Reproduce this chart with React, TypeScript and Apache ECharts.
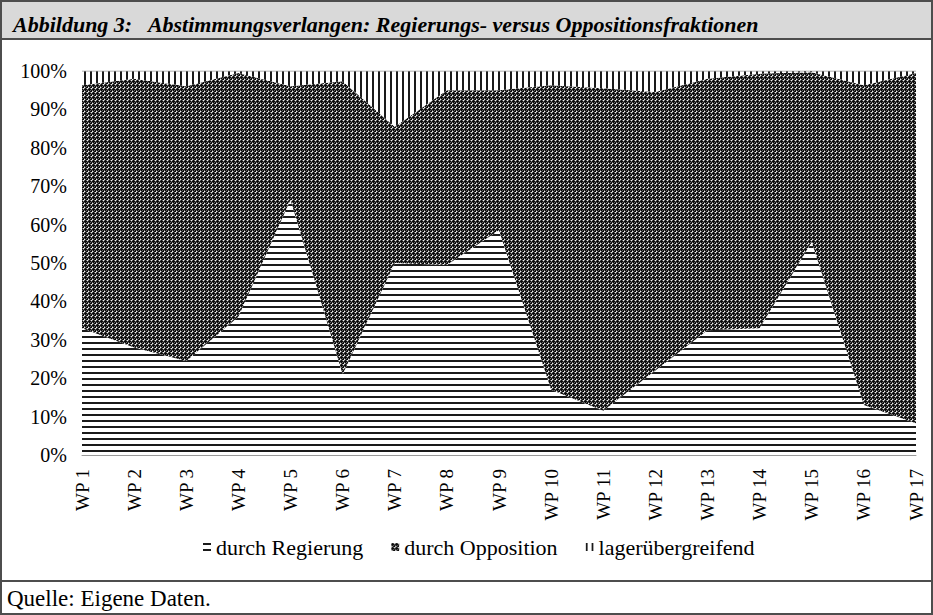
import React, { useEffect, useRef } from "react";
import * as echarts from "echarts";

const categories = ["WP 1", "WP 2", "WP 3", "WP 4", "WP 5", "WP 6", "WP 7", "WP 8", "WP 9", "WP 10", "WP 11", "WP 12", "WP 13", "WP 14", "WP 15", "WP 16", "WP 17"];
const regierung = [33, 28, 24.5, 36, 66.5, 21, 50, 49.5, 58.5, 17, 11.5, 22, 32.5, 33, 55.5, 13, 8.3];
const opposition = [63.3, 70, 71.5, 63.5, 29.5, 76.3, 35.5, 45.5, 36.5, 79.3, 84, 72.5, 65.5, 66.3, 44.2, 83.3, 91.2];
const lager = [3.7, 2, 4, 0.5, 4, 2.7, 14.5, 5, 5, 3.7, 4.5, 5.5, 2, 0.7, 0.3, 3.7, 0.5];
const seriesNames = ["durch Regierung", "durch Opposition", "lagerübergreifend"];
const titleText = "Abbildung 3:   Abstimmungsverlangen: Regierungs- versus Oppositionsfraktionen";
const sourceText = "Quelle: Eigene Daten.";

const FONT = "'Liberation Serif', 'DejaVu Serif', serif";

function makeCanvas(w: number, h: number, draw: (ctx: CanvasRenderingContext2D) => void) {
  const c = document.createElement("canvas");
  c.width = w;
  c.height = h;
  const ctx = c.getContext("2d")!;
  draw(ctx);
  return { image: c, repeat: "repeat", imageWidth: w, imageHeight: h } as any;
}

export default function App() {
  const ref = useRef<HTMLDivElement>(null);
  useEffect(() => {
    if (!ref.current) return;
    const chart = echarts.init(ref.current, null, { renderer: "svg" });

    const hLines = makeCanvas(6, 6, (ctx) => {
      ctx.fillStyle = "#ffffff";
      ctx.fillRect(0, 0, 6, 6);
      ctx.fillStyle = "#1a1a1a";
      ctx.fillRect(0, 0, 6, 2);
    });
    const vLines = makeCanvas(6, 6, (ctx) => {
      ctx.fillStyle = "#ffffff";
      ctx.fillRect(0, 0, 6, 6);
      ctx.fillStyle = "#1a1a1a";
      ctx.fillRect(0, 0, 2, 6);
    });
    const checker = makeCanvas(4, 4, (ctx) => {
      const K = "#0a0a0a", G = "#666666", W = "#f0f0f0";
      const grid = [
        [G, K, G, W],
        [K, K, K, G],
        [G, K, G, K],
        [W, G, K, K],
      ];
      for (let y = 0; y < 4; y++)
        for (let x = 0; x < 4; x++) {
          ctx.fillStyle = grid[y][x];
          ctx.fillRect(x, y, 1, 1);
        }
    });
    const patterns = [hLines, checker, vLines];
    const values = [regierung, opposition, lager];

    chart.setOption({
      animation: false,
      backgroundColor: "#ffffff",
      title: {
        text: titleText,
        left: 8,
        top: 8,
        textStyle: { fontFamily: FONT, fontStyle: "italic", fontWeight: "bold", fontSize: 22, color: "#000" },
      },
      graphic: [
        { type: "rect", z: -10, shape: { x: 1, y: 1, width: 931, height: 38 }, style: { fill: "#d9d9d9", stroke: "#4d4d4d", lineWidth: 2 } },
        { type: "rect", z: -10, shape: { x: 1, y: 1, width: 931, height: 613 }, style: { fill: "none", stroke: "#4d4d4d", lineWidth: 2 } },
        { type: "line", z: -10, shape: { x1: 0, y1: 581, x2: 933, y2: 581 }, style: { stroke: "#4d4d4d", lineWidth: 2 } },
        { type: "text", left: 7, top: 587, style: { text: sourceText, fontFamily: FONT, fontSize: 23, fill: "#000" } },
      ],
      legend: {
        top: 531,
        left: 198,
        icon: "rect",
        itemWidth: 8,
        itemHeight: 8,
        itemGap: 28,
        textStyle: { fontFamily: FONT, fontSize: 22, color: "#000" },
        data: seriesNames.map((n, i) => ({ name: n, itemStyle: { color: patterns[i] } })),
      },
      grid: { left: 82, right: 17, top: 71, bottom: 160 },
      xAxis: {
        type: "category",
        data: categories,
        boundaryGap: false,
        axisLine: { show: true, lineStyle: { color: "#999", width: 1 } },
        axisTick: { show: false },
        axisLabel: { rotate: 90, fontFamily: FONT, fontSize: 19, color: "#000", margin: 14, interval: 0 },
      },
      yAxis: {
        type: "value",
        min: 0,
        max: 100,
        interval: 10,
        axisLine: { show: false },
        axisTick: { show: false },
        splitLine: { show: false },
        axisLabel: { formatter: "{value}%", fontFamily: FONT, fontSize: 20, color: "#000", margin: 15 },
      },
      series: seriesNames.map((n, i) => ({
        name: n,
        type: "line",
        stack: "total",
        data: values[i],
        symbol: "none",
        lineStyle: { width: i === 2 ? 1 : 0, color: "#999", opacity: i === 2 ? 1 : 0 },
        itemStyle: { color: patterns[i] },
        areaStyle: { color: patterns[i], opacity: 1 },
      })),
    });
    return () => chart.dispose();
  }, []);
  return <div ref={ref} style={{ position: "fixed", left: 0, top: 0, width: 933, height: 615 }} />;
}
